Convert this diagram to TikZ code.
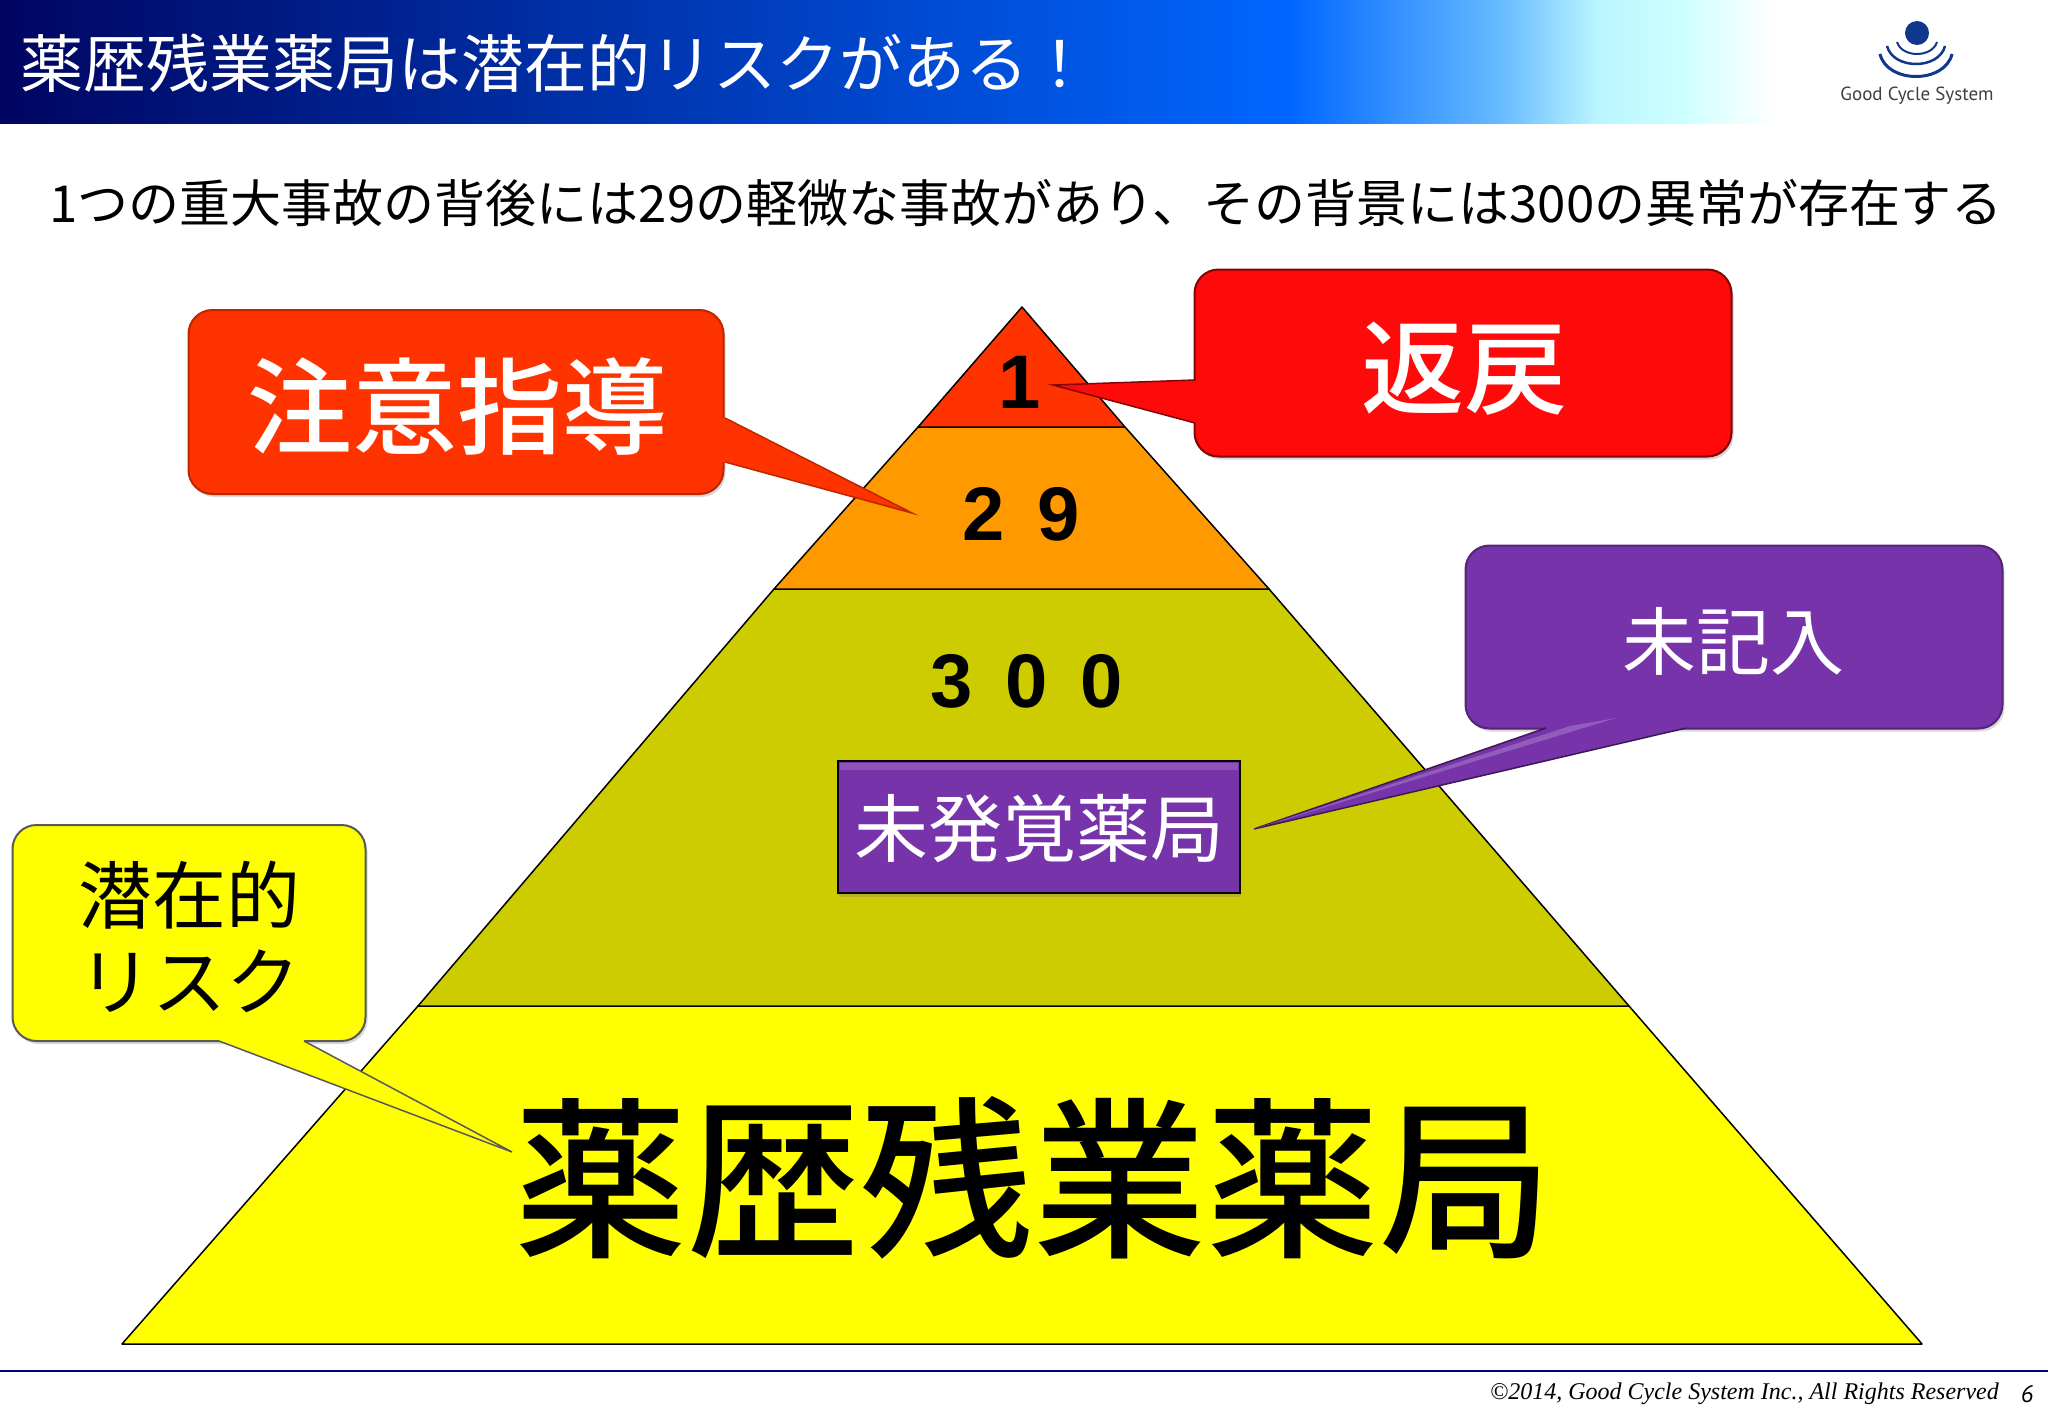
\documentclass[tikz,border=0pt]{standalone}
\usepackage{fontspec}
\setmainfont{Noto Sans CJK JP}
\newfontfamily\labelfont{Noto Sans CJK JP Medium}
\newfontfamily\footerfont{Liberation Serif}
\newfontfamily\logofont{PT Sans}
\newfontfamily\numberfont[LetterSpace=43]{Liberation Sans}
\usetikzlibrary{positioning, shadows}

\definecolor{tip_red}{RGB}{255,51,0}
\definecolor{layer_orange}{RGB}{255,153,0}
\definecolor{layer_olive}{RGB}{204,204,0}
\definecolor{layer_yellow}{RGB}{255,255,0}
\definecolor{box_red}{RGB}{255,10,10}
\definecolor{box_purple}{RGB}{119,51,170}
\definecolor{logo_blue}{RGB}{15,55,140}

\pgfdeclarehorizontalshading{title_bar}{100bp}{rgb(0bp)=(0,.02,.38); rgb(25bp)=(0,.02,.38); rgb(56.5bp)=(0,.4,1); rgb(61.6bp)=(.4,.73,1); rgb(64bp)=(.73,.96,1); rgb(66bp)=(.8,1,1); rgb(68.3bp)=(1,1,1); rgb(100bp)=(1,1,1)}

\tikzset{
    layer/.style={draw=black, line width=1.5pt, line join=round},
    number/.style={font=\numberfont\bfseries\fontsize{76}{76}\selectfont},
    callout_box/.style={rectangle, rounded corners=24pt, line width=2pt, drop shadow={shadow xshift=2pt, shadow yshift=-3pt, opacity=.3}, align=center},
    callout_tail/.style={line width=1.5pt, line join=miter},
    tail_shadow/.style={black, opacity=.25, xshift=2pt, yshift=-3pt},
    white_label/.style={inner sep=0pt, text=white, font=\labelfont\fontsize{#1}{#1}\selectfont},
    small_white_label/.style={inner sep=0pt, text=white, font=\fontsize{74}{74}\selectfont},
    black_label/.style={inner sep=0pt, font=\labelfont\fontsize{#1}{#1}\selectfont},
    small_black_label/.style={inner sep=0pt, font=\fontsize{74}{74}\selectfont},
}

\begin{document}
\begin{tikzpicture}[x=1pt, y=-1pt]
        \useasboundingbox (0, 0) rectangle (2048, 1418);
        \fill[white] (0, 0) rectangle (2048, 1418);

        % title bar
        \shade[shading=title_bar] (0, 0) rectangle (2048, 124);
        \node[anchor=west, inner sep=0pt, text=white, font=\fontsize{63}{63}\selectfont] (title) at (20, 63) {薬歴残業薬局は潜在的リスクがある！};
        \node[inner sep=0pt, font=\fontsize{51}{51}\selectfont] (subtitle) at (1026, 203) {1つの重大事故の背後には29の軽微な事故があり、その背景には300の異常が存在する};

        % logo
        \fill[logo_blue] (1917, 33) circle (12);
        \draw[logo_blue, line width=2pt] (1897, 42) .. controls (1902, 58) and (1932, 58) .. (1937, 42);
        \draw[logo_blue, line width=2.5pt] (1887, 46) .. controls (1893, 70) and (1939, 70) .. (1945, 46);
        \draw[logo_blue, line width=3pt] (1880, 54) .. controls (1887, 84) and (1945, 84) .. (1952, 54);
        \node[inner sep=0pt, text=black!75, font=\logofont\fontsize{19}{19}\selectfont] (logo_text) at (1917, 96) {Good Cycle System};

        % pyramid
        \coordinate (apex) at (1022, 307);
        \filldraw[layer, fill=layer_yellow] (418, 1006) -- (1629, 1006) -- (1922, 1344) -- (122, 1344) -- cycle;
        \filldraw[layer, fill=layer_olive] (774, 589) -- (1269, 589) -- (1629, 1006) -- (418, 1006) -- cycle;
        \filldraw[layer, fill=layer_orange] (918, 427) -- (1125, 427) -- (1269, 589) -- (774, 589) -- cycle;
        \filldraw[layer, fill=tip_red] (apex) -- (1125, 427) -- (918, 427) -- cycle;

        \node[number] (count_one) at (1020, 382) {1};
        \node[number] (count_twentynine) at (1021, 514) {29};
        \node[number] (count_threehundred) at (1027, 681) {300};
        \node[black_label=173] (big_label) at (1033, 1178) {薬歴残業薬局};

        % inner box
        \node[rectangle, fill=box_purple, draw=black, line width=2pt, minimum width=402pt, minimum height=132pt, inner sep=0pt, drop shadow={shadow xshift=1pt, shadow yshift=-4pt, opacity=.3}] (hidden_box) at (1039, 827) {};
        \fill[box_purple!85!white] (840, 763) rectangle (1238, 770);
        \node[small_white_label] (hidden_label) at (1039, 829) {未発覚薬局};

        % callouts
        \coordinate (guidance_tip) at (912, 513);
        \coordinate (guidance_a) at (725, 418);
        \coordinate (guidance_b) at (725, 462);
        \fill[tail_shadow] (guidance_a) -- (guidance_tip) -- (guidance_b) -- cycle;
        \node[callout_box, draw=tip_red!75!black, fill=tip_red, minimum width=535pt, minimum height=184pt] (guidance_box) at (456, 402) {};
        \fill[tip_red] (guidance_a) -- (guidance_tip) -- (guidance_b) -- (710, 462) -- (710, 418) -- cycle;
        \draw[callout_tail, tip_red!75!black] (guidance_a) -- (guidance_tip) -- (guidance_b);
        \node[white_label=105] (guidance_label) at (457, 406) {注意指導};

        \coordinate (return_tip) at (1053, 385);
        \coordinate (return_a) at (1195, 380);
        \coordinate (return_b) at (1195, 423);
        \fill[tail_shadow] (return_a) -- (return_tip) -- (return_b) -- cycle;
        \node[callout_box, draw=box_red!50!black, fill=box_red, minimum width=537pt, minimum height=187pt] (return_box) at (1463, 363) {};
        \fill[box_red] (return_a) -- (return_tip) -- (return_b) -- (1210, 423) -- (1210, 380) -- cycle;
        \draw[callout_tail, box_red!50!black] (return_a) -- (return_tip) -- (return_b);
        \node[white_label=103] (return_label) at (1464, 369) {返戻};

        \coordinate (blank_tip) at (1254, 829);
        \coordinate (blank_a) at (1546, 728);
        \coordinate (blank_b) at (1686, 728);
        \fill[tail_shadow] (blank_a) -- (blank_tip) -- (blank_b) -- cycle;
        \node[callout_box, draw=box_purple!70!black, fill=box_purple, minimum width=537pt, minimum height=183pt] (blank_box) at (1734, 637) {};
        \fill[box_purple] (blank_a) -- (blank_tip) -- (blank_b) -- (1686, 716) -- (1546, 716) -- cycle;
        \draw[callout_tail, box_purple!50!black] (blank_a) -- (blank_tip) -- (blank_b);
        \fill[box_purple!80!white] (1616, 718) -- (blank_tip) -- (1570, 726) -- cycle;
        \node[small_white_label] (blank_label) at (1733, 641) {未記入};

        \coordinate (risk_tip) at (512, 1152);
        \coordinate (risk_a) at (219, 1041);
        \coordinate (risk_b) at (304, 1041);
        \fill[tail_shadow] (risk_a) -- (risk_tip) -- (risk_b) -- cycle;
        \node[callout_box, draw=black!65, fill=layer_yellow, minimum width=353pt, minimum height=216pt] (risk_box) at (189, 933) {};
        \fill[layer_yellow] (risk_a) -- (risk_tip) -- (risk_b) -- (304, 1030) -- (219, 1030) -- cycle;
        \draw[callout_tail, black!65] (risk_a) -- (risk_tip) -- (risk_b);
        \node[small_black_label] (risk_top) at (189, 895) {潜在的};
        \node[small_black_label] (risk_bottom) at (189, 981) {リスク};

        % footer
        \coordinate (rule_left) at (0, 1371);
        \coordinate (rule_right) at (2048, 1371);
        \draw[blue!50!black, line width=1.5pt] (rule_left) -- (rule_right);
        \node[anchor=east, inner sep=0pt, font=\footerfont\itshape\fontsize{24}{24}\selectfont] (copyright) at (1999, 1394) {©2014, Good Cycle System Inc., All Rights Reserved};
        \node[inner sep=0pt, font=\logofont\itshape\fontsize{24}{24}\selectfont] (page_number) at (2027, 1394) {6};
    \end{tikzpicture}
\end{document}
